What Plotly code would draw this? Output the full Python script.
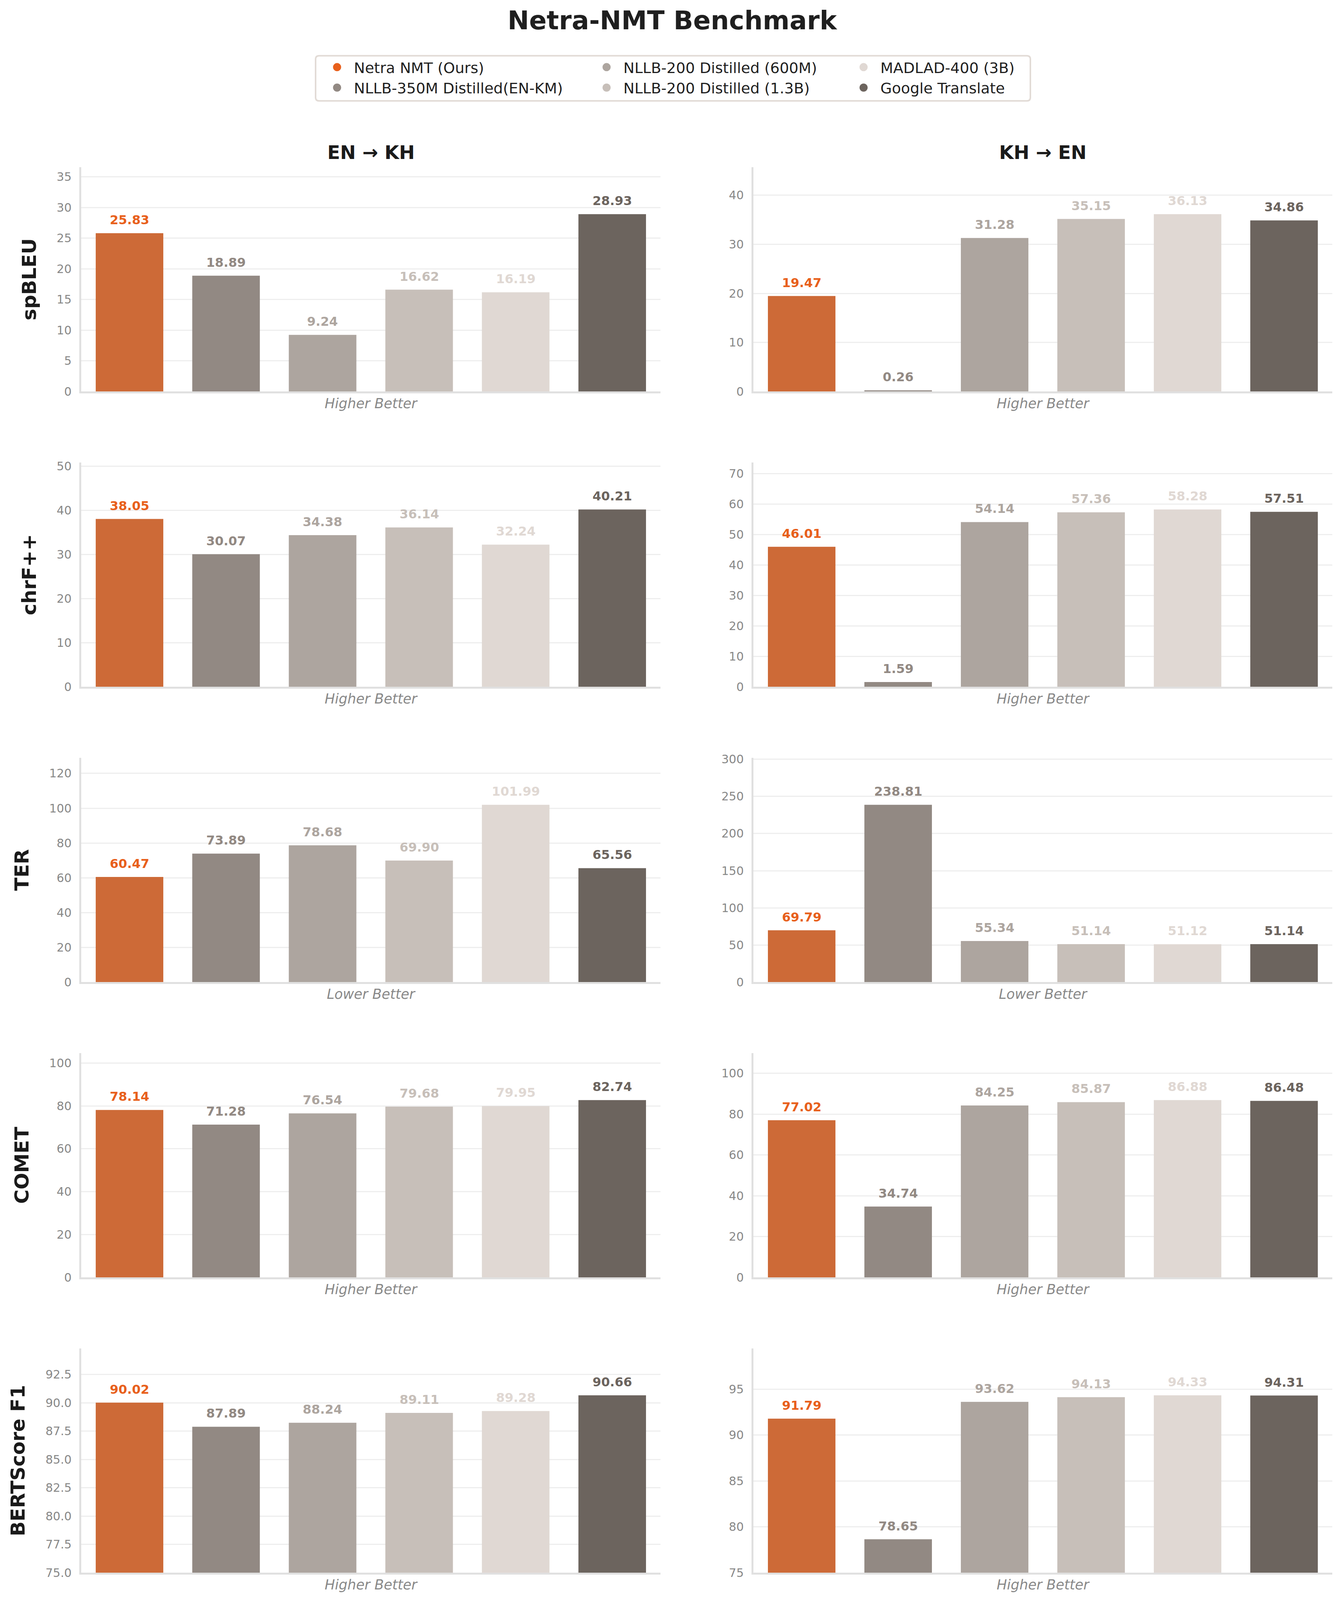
import plotly.graph_objects as go
from plotly.subplots import make_subplots

# Netra-NMT benchmark: 5 metrics x 2 translation directions

models = [
    "Netra NMT (Ours)",
    "NLLB-350M Distilled(EN-KM)",
    "NLLB-200 Distilled (600M)",
    "NLLB-200 Distilled (1.3B)",
    "MADLAD-400 (3B)",
    "Google Translate",
]
directions = ["EN → KH", "KH → EN"]
metrics = ["spBLEU", "chrF++", "TER", "COMET", "BERTScore F1"]
metric_notes = ["Higher Better", "Higher Better", "Lower Better", "Higher Better", "Higher Better"]

spbleu_en_kh = [25.83, 18.89, 9.24, 16.62, 16.19, 28.93]
spbleu_kh_en = [19.47, 0.26, 31.28, 35.15, 36.13, 34.86]
chrf_en_kh = [38.05, 30.07, 34.38, 36.14, 32.24, 40.21]
chrf_kh_en = [46.01, 1.59, 54.14, 57.36, 58.28, 57.51]
ter_en_kh = [60.47, 73.89, 78.68, 69.90, 101.99, 65.56]
ter_kh_en = [69.79, 238.81, 55.34, 51.14, 51.12, 51.14]
comet_en_kh = [78.14, 71.28, 76.54, 79.68, 79.95, 82.74]
comet_kh_en = [77.02, 34.74, 84.25, 85.87, 86.88, 86.48]
bert_en_kh = [90.02, 87.89, 88.24, 89.11, 89.28, 90.66]
bert_kh_en = [91.79, 78.65, 93.62, 94.13, 94.33, 94.31]

scores = [
    [spbleu_en_kh, spbleu_kh_en],
    [chrf_en_kh, chrf_kh_en],
    [ter_en_kh, ter_kh_en],
    [comet_en_kh, comet_kh_en],
    [bert_en_kh, bert_kh_en],
]
axis_floor = [0, 0, 0, 0, 75]

# styling
FONT = "DejaVu Sans"
label_colors = ["#E8601C", "#928983", "#ADA59F", "#C7BFB9", "#E0D8D3", "#6C645E"]
bar_colors = ["#CD6A37", "#928983", "#ADA59F", "#C7BFB9", "#E0D8D3", "#6C645E"]
tick_steps = [[5, 10], [10, 10], [20, 50], [20, 20], [2.5, 5]]
tick_formats = [["", ""], ["", ""], ["", ""], ["", ""], [".1f", ""]]

# the page shows 3441 x 4096 px; the layout below is laid out on a 3441 x 5169 grid
# and squeezed vertically so the whole chart stays in view (body margin is 8px)
REF_H = 5169
W, H = 3441, 4088
SY = 4096 / REF_H
PAD = 8


def fx(px):
    return (px - PAD) / W


def fy(py):
    return 1 - (py * SY - PAD) / H


col_px = [(208, 1691), (1929, 3411)]
row_top, row_h, row_step = 540, 725, 954

fig = make_subplots(rows=5, cols=2)

for r, metric in enumerate(metrics):
    y_top = row_top + r * row_step
    for c in range(2):
        vals = scores[r][c]
        lo = axis_floor[r]
        hi = lo + (max(vals) - lo) * 1.265
        fig.add_trace(
            go.Bar(x=models, y=vals, marker=dict(color=bar_colors, line=dict(width=0)),
                   width=0.7, showlegend=False, hoverinfo="x+y"),
            row=r + 1, col=c + 1,
        )
        fig.update_xaxes(
            domain=[fx(col_px[c][0]), fx(col_px[c][1])], range=[-0.5, 5.5],
            showticklabels=False, ticks="", showgrid=False, zeroline=False,
            showline=True, linecolor="#E0E0E0", linewidth=4.5,
            title=dict(text=metric_notes[r], standoff=16,
                       font=dict(family=FONT, size=35, color="#888888", style="italic")),
            automargin=False, row=r + 1, col=c + 1,
        )
        fig.update_yaxes(
            domain=[fy(y_top + row_h), fy(y_top)], range=[lo, hi],
            dtick=tick_steps[r][c], tick0=lo, tickformat=tick_formats[r][c],
            showgrid=True, gridcolor="#EEEEEE", gridwidth=3, zeroline=False,
            showline=True, linecolor="#E0E0E0", linewidth=4.5,
            ticks="", ticklabelstandoff=14,
            tickfont=dict(family=FONT, size=30, color="#888888"),
            automargin=False, row=r + 1, col=c + 1,
        )
        if c == 0:
            fig.update_yaxes(
                title=dict(text=metric, standoff=38,
                           font=dict(family=FONT, size=50, color="#1A1A1A", weight="bold")),
                row=r + 1, col=c + 1,
            )
        # value labels above each bar
        axis_n = r * 2 + c + 1
        xref = "x" if axis_n == 1 else f"x{axis_n}"
        yref = "y" if axis_n == 1 else f"y{axis_n}"
        for m, v, col in zip(models, vals, label_colors):
            fig.add_annotation(
                x=m, y=v, xref=xref, yref=yref, text=f"{v:.2f}", showarrow=False,
                yanchor="middle", yshift=round(43 * SY),
                font=dict(family=FONT, size=32, color=col, weight="bold"),
            )

# column headings
for c, d in enumerate(directions):
    fig.add_annotation(
        x=fx((col_px[c][0] + col_px[c][1]) / 2), y=fy(492), xref="paper", yref="paper",
        text=d, showarrow=False, xanchor="center", yanchor="middle",
        font=dict(family=FONT, size=48, color="#1A1A1A", weight="bold"),
    )

# legend: three columns of two entries, using circle markers
legend_names = ["legend", "legend2", "legend3"]
legend_left = [820, 1510, 2168]
for i, (m, col) in enumerate(zip(models, label_colors)):
    fig.add_trace(
        go.Scatter(x=[None], y=[None], mode="markers", name=m,
                   marker=dict(symbol="circle", size=16, color=col, line=dict(width=5, color=col)),
                   legend=legend_names[i // 2], hoverinfo="skip"),
        row=1, col=1,
    )

legend_style = dict(
    orientation="v", xanchor="left", yanchor="middle", y=fy(250),
    bgcolor="rgba(0,0,0,0)", borderwidth=0, itemwidth=76, tracegroupgap=0,
    font=dict(family=FONT, size=38, color="#1F1F1F"),
)
fig.update_layout(
    legend=dict(x=fx(legend_left[0]), **legend_style),
    legend2=dict(x=fx(legend_left[1]), **legend_style),
    legend3=dict(x=fx(legend_left[2]), **legend_style),
)

# rounded frame around the legend
x0, x1 = fx(808), fx(2638)
y0, y1 = fy(326), fy(180)
rx, ry = 9 / W, 9 / H
frame = (f"M {x0 + rx},{y0} L {x1 - rx},{y0} Q {x1},{y0} {x1},{y0 + ry} "
         f"L {x1},{y1 - ry} Q {x1},{y1} {x1 - rx},{y1} L {x0 + rx},{y1} "
         f"Q {x0},{y1} {x0},{y1 - ry} L {x0},{y0 + ry} Q {x0},{y0} {x0 + rx},{y0} Z")
fig.add_shape(type="path", path=frame, xref="paper", yref="paper",
              line=dict(color="#E2DBD6", width=4), fillcolor="rgba(0,0,0,0)", layer="below")

fig.update_layout(
    width=W, height=H,
    margin=dict(l=0, r=0, t=0, b=0),
    paper_bgcolor="white", plot_bgcolor="white",
    bargap=0.3,
    title=dict(text="Netra-NMT Benchmark", x=fx(1721), xanchor="center", y=fy(66), yanchor="middle",
               font=dict(family=FONT, size=66, color="#1F1F1F", weight="bold")),
    font=dict(family=FONT),
)

fig.write_html("out.html")
